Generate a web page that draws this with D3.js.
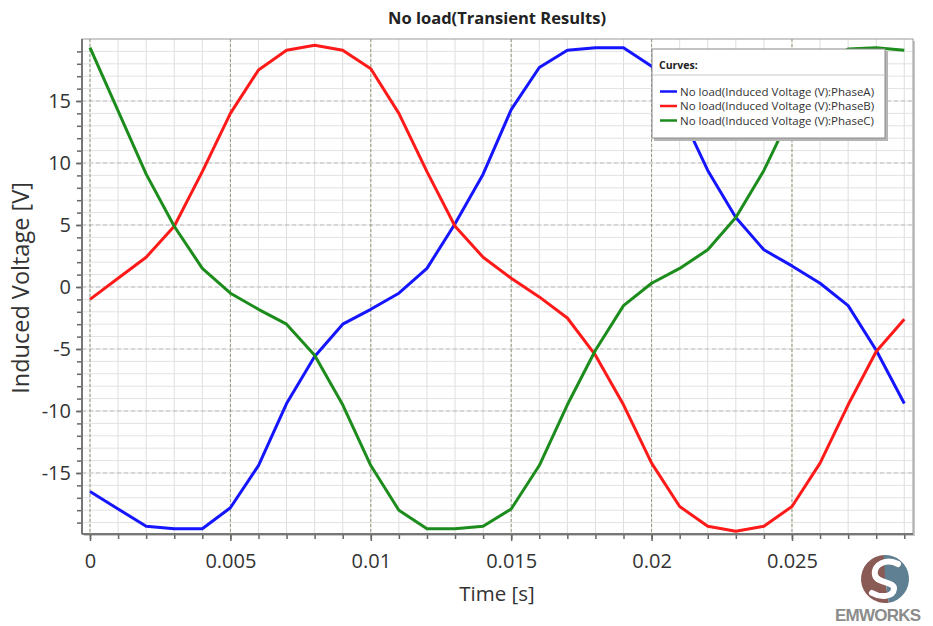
<!DOCTYPE html>
<html>
<head>
<meta charset="utf-8">
<script src="https://cdn.jsdelivr.net/npm/d3@7"></script>
<style>
  body { margin: 0; background: #fff; }
  text { font-family: "Open Sans", "Noto Sans", sans-serif; }
</style>
</head>
<body>
<div id="plot"></div>
<script>
var width = 933;
var height = 626;

// time samples (s)
var times = [0, 0.001, 0.002, 0.003, 0.004, 0.005, 0.006, 0.007, 0.008, 0.009,
  0.010, 0.011, 0.012, 0.013, 0.014, 0.015, 0.016, 0.017, 0.018, 0.019,
  0.020, 0.021, 0.022, 0.023, 0.024, 0.025, 0.026, 0.027, 0.028, 0.029];

var phaseA = [-16.5, -17.9, -19.3, -19.5, -19.5, -17.8, -14.4, -9.4, -5.6, -3.0,
  -1.8, -0.5, 1.5, 5.1, 9.1, 14.3, 17.7, 19.1, 19.3, 19.3,
  17.8, 14.2, 9.4, 5.6, 3.0, 1.7, 0.3, -1.5, -5.1, -9.4];

var phaseB = [-1.0, 0.7, 2.4, 4.9, 9.3, 14.0, 17.5, 19.1, 19.5, 19.1,
  17.6, 14.0, 9.3, 4.9, 2.4, 0.7, -0.8, -2.5, -5.5, -9.5,
  -14.2, -17.7, -19.3, -19.7, -19.3, -17.7, -14.2, -9.5, -5.2, -2.6];

var phaseC = [19.3, 14.2, 9.1, 4.9, 1.5, -0.5, -1.8, -3.0, -5.5, -9.5,
  -14.4, -18.0, -19.5, -19.5, -19.3, -17.9, -14.4, -9.5, -5.1, -1.5,
  0.3, 1.5, 3.0, 5.6, 9.4, 14.1, 17.7, 19.2, 19.3, 19.1];

var seriesNames = ["No load(Induced Voltage (V):PhaseA)",
  "No load(Induced Voltage (V):PhaseB)",
  "No load(Induced Voltage (V):PhaseC)"];
var seriesColors = ["#1515ff", "#ff1a1a", "#1c8c1c"];
var seriesValues = [phaseA, phaseB, phaseC];

var xTickValues = [0, 0.005, 0.01, 0.015, 0.02, 0.025];
var xTickLabels = ["0", "0.005", "0.01", "0.015", "0.02", "0.025"];
var yTickValues = [-15, -10, -5, 0, 5, 10, 15];
var yTickLabels = ["-15", "-10", "-5", "0", "5", "10", "15"];
var xMinorTicks = d3.range(0, 30).map(function(i) { return i / 1000; });
var yMinorTicks = d3.range(-19, 20);

var box = { left: 82, right: 913, top: 39, bottom: 534 };

var svg = d3.select("#plot").append("svg")
  .attr("width", width)
  .attr("height", height);

var scaleX = d3.scaleLinear().domain([-0.000285, 0.02931]).range([box.left, box.right]);
var scaleY = d3.scaleLinear().domain([-19.92, 20]).range([box.bottom, box.top]);

// Title
svg.append("text")
  .attr("x", 497)
  .attr("y", 24)
  .attr("text-anchor", "middle")
  .style("font-size", "16.5px")
  .style("font-weight", "bold")
  .attr("fill", "#222")
  .text("No load(Transient Results)");

// Plot background + shadow
svg.append("rect")
  .attr("x", box.left + 2).attr("y", box.top + 2)
  .attr("width", box.right - box.left).attr("height", box.bottom - box.top)
  .attr("fill", "#c8c8c8");
svg.append("rect")
  .attr("x", box.left).attr("y", box.top)
  .attr("width", box.right - box.left).attr("height", box.bottom - box.top)
  .attr("fill", "#fff");

var grid = svg.append("g");

// minor grid
xMinorTicks.forEach(function(t) {
  grid.append("line")
    .attr("x1", scaleX(t)).attr("x2", scaleX(t))
    .attr("y1", box.top).attr("y2", box.bottom)
    .attr("stroke", "#dedede").attr("stroke-width", 1);
});
yMinorTicks.forEach(function(v) {
  grid.append("line")
    .attr("x1", box.left).attr("x2", box.right)
    .attr("y1", scaleY(v)).attr("y2", scaleY(v))
    .attr("stroke", "#e2e2e2").attr("stroke-width", 1);
});

// major grid (dashed)
yTickValues.forEach(function(v) {
  grid.append("line")
    .attr("x1", box.left).attr("x2", box.right)
    .attr("y1", scaleY(v)).attr("y2", scaleY(v))
    .attr("stroke", "#bdbdbd").attr("stroke-width", 1)
    .attr("stroke-dasharray", "4,3");
});
xTickValues.forEach(function(t) {
  grid.append("line")
    .attr("x1", scaleX(t)).attr("x2", scaleX(t))
    .attr("y1", box.top).attr("y2", box.bottom)
    .attr("stroke", "#8f9c7a").attr("stroke-width", 1)
    .attr("stroke-dasharray", "3,2");
});

// Curves
var pathGenerator = d3.line()
  .x(function(d, i) { return scaleX(times[i]); })
  .y(function(d) { return scaleY(d); });

var plot = svg.append("g");
seriesValues.forEach(function(vals, i) {
  plot.append("path")
    .attr("d", pathGenerator(vals))
    .attr("fill", "none")
    .attr("stroke", seriesColors[i])
    .attr("stroke-width", 3)
    .attr("stroke-linejoin", "round");
});

// Frame
svg.append("rect")
  .attr("x", box.left).attr("y", box.top)
  .attr("width", box.right - box.left).attr("height", box.bottom - box.top)
  .attr("fill", "none")
  .attr("stroke", "#9a9a9a").attr("stroke-width", 1);

// Axes
var xAxis = d3.axisBottom(scaleX)
  .tickValues(xTickValues)
  .tickFormat(function(d, i) { return xTickLabels[i]; })
  .tickSize(7).tickPadding(13);
var xMinor = d3.axisBottom(scaleX).tickValues(xMinorTicks).tickFormat("").tickSize(5);
var yAxis = d3.axisLeft(scaleY)
  .tickValues(yTickValues)
  .tickFormat(function(d, i) { return yTickLabels[i]; })
  .tickSize(6).tickPadding(5);
var yMinor = d3.axisLeft(scaleY).tickValues(yMinorTicks).tickFormat("").tickSize(5);

function styleAxis(g) {
  g.select(".domain").remove();
  g.selectAll(".tick line").attr("stroke", "#666").attr("stroke-width", 1.5);
  g.selectAll(".tick text")
    .attr("fill", "#333")
    .style("font-size", "20px")
    .style("font-family", "'Open Sans', 'Noto Sans', sans-serif");
}

svg.append("g").attr("transform", "translate(0," + box.bottom + ")").call(xMinor).call(styleAxis);
svg.append("g").attr("transform", "translate(0," + box.bottom + ")").call(xAxis).call(styleAxis);
svg.append("g").attr("transform", "translate(0,0)").call(function(g) {});
svg.append("g").attr("transform", "translate(" + box.left + ",0)").call(yMinor).call(styleAxis);
svg.append("g").attr("transform", "translate(" + box.left + ",0)").call(yAxis).call(styleAxis);

// axis lines (left and bottom, thicker grey)
svg.append("line")
  .attr("x1", box.left).attr("x2", box.right)
  .attr("y1", box.bottom).attr("y2", box.bottom)
  .attr("stroke", "#777").attr("stroke-width", 2);
svg.append("line")
  .attr("x1", box.left).attr("x2", box.left)
  .attr("y1", box.top).attr("y2", box.bottom)
  .attr("stroke", "#777").attr("stroke-width", 2);

// Axis titles
svg.append("text")
  .attr("x", 497).attr("y", 601)
  .attr("text-anchor", "middle")
  .style("font-size", "20.5px")
  .attr("fill", "#333")
  .text("Time [s]");
svg.append("text")
  .attr("transform", "translate(29,288) rotate(-90)")
  .attr("text-anchor", "middle")
  .style("font-size", "23.5px")
  .attr("fill", "#333")
  .text("Induced Voltage [V]");

// Legend
var legend = svg.append("g").attr("transform", "translate(652,49)");
legend.append("rect")
  .attr("x", 2).attr("y", 2).attr("width", 234).attr("height", 90)
  .attr("fill", "#b5b5b5");
legend.append("rect")
  .attr("width", 233).attr("height", 89)
  .attr("fill", "#fff").attr("stroke", "#8a8a8a").attr("stroke-width", 1);
legend.append("text")
  .attr("x", 7).attr("y", 20)
  .style("font-size", "10.5px").style("font-weight", "bold")
  .attr("fill", "#222")
  .text("Curves:");
legend.append("line")
  .attr("x1", 0).attr("x2", 233).attr("y1", 26).attr("y2", 26)
  .attr("stroke", "#c8c8c8");
seriesNames.forEach(function(name, i) {
  var y = 42.5 + i * 14.5;
  legend.append("line")
    .attr("x1", 8).attr("x2", 25).attr("y1", y).attr("y2", y)
    .attr("stroke", seriesColors[i]).attr("stroke-width", 2.5);
  legend.append("text")
    .attr("x", 28).attr("y", y + 4)
    .style("font-size", "11.5px")
    .attr("fill", "#333")
    .text(name);
});

// EMWORKS logo
var logo = svg.append("g").attr("transform", "translate(885,579)");
var arcGen = d3.arc();
logo.append("path")
  .attr("d", arcGen({ innerRadius: 0, outerRadius: 24, startAngle: Math.PI * 0.95, endAngle: Math.PI * 2.0 }))
  .attr("fill", "#8a5a55");
logo.append("path")
  .attr("d", arcGen({ innerRadius: 0, outerRadius: 24, startAngle: -0.05, endAngle: Math.PI * 0.95 }))
  .attr("fill", "#5f7f93");
logo.append("path")
  .attr("d", "M13,-15 C2,-21 -12,-15 -10,-4 C-8,5 10,2 9,10 C8,18 -4,19 -13,14")
  .attr("fill", "none").attr("stroke", "#fff").attr("stroke-width", 6).attr("stroke-linecap", "round");
svg.append("text")
  .attr("x", 878).attr("y", 621)
  .attr("text-anchor", "middle")
  .attr("textLength", 86)
  .style("font-size", "17px").style("font-weight", "bold")
  .style("font-family", "'Liberation Sans', Arial, sans-serif")
  .attr("fill", "#8c8c8c")
  .text("EMWORKS");
</script>
</body>
</html>
